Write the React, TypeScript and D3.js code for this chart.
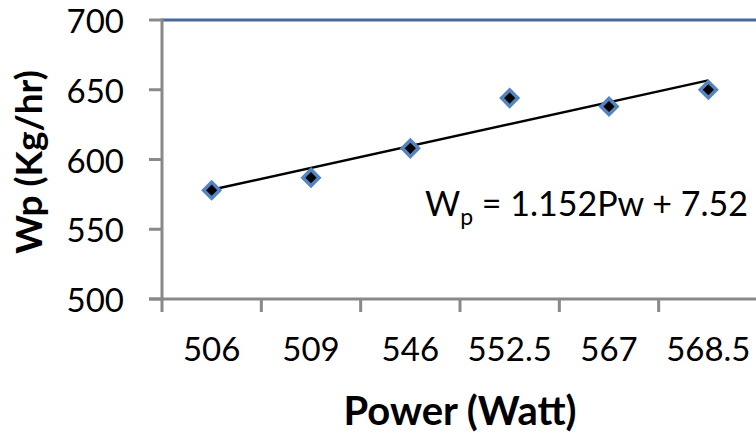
import React from "react";
import * as d3 from "d3";

// Power categories (W) and measured production rate Wp (kg/hr)
const powerLabels = ["506", "509", "546", "552.5", "567", "568.5"];
const wpValues = [578, 587, 608, 644, 638, 650];
const yTickValues = [500, 550, 600, 650, 700];

const WIDTH = 756;
const HEIGHT = 436;
const PLOT = { left: 162, right: 758, top: 20, bottom: 299 };

const FONT = "Lato, 'Open Sans', sans-serif";
const AXIS_GRAY = "#898989";

// Least-squares fit over category positions 1..n (as a spreadsheet trendline does)
function linearFit(values: number[]) {
  const xs = values.map((_, i) => i + 1);
  const mx = d3.mean(xs) as number;
  const my = d3.mean(values) as number;
  let sxy = 0;
  let sxx = 0;
  xs.forEach((x, i) => {
    sxy += (x - mx) * (values[i] - my);
    sxx += (x - mx) * (x - mx);
  });
  const slope = sxy / sxx;
  const intercept = my - slope * mx;
  return (x: number) => intercept + slope * x;
}

export default function App() {
  const x = d3
    .scaleBand<string>()
    .domain(powerLabels)
    .range([PLOT.left, PLOT.right])
    .padding(0);
  const y = d3.scaleLinear().domain([500, 700]).range([PLOT.bottom, PLOT.top]);

  const cx = (label: string) => (x(label) as number) + x.bandwidth() / 2;

  const fit = linearFit(wpValues);
  const first = powerLabels[0];
  const last = powerLabels[powerLabels.length - 1];
  const trendPath = d3.line()([
    [cx(first), y(fit(1))],
    [cx(last), y(fit(powerLabels.length))],
  ]) as string;

  const diamond = d3.symbol(d3.symbolSquare, 130)() as string;

  // boundaries between categories carry the tick marks
  const xTickPositions = d3.range(powerLabels.length + 1).map(
    (i) => PLOT.left + i * x.bandwidth()
  );

  return (
    <svg
      width={WIDTH}
      height={HEIGHT}
      style={{ position: "absolute", left: 0, top: 0, background: "#fff" }}
      fontFamily={FONT}
    >
      <rect width={WIDTH} height={HEIGHT} fill="#fff" />

      {/* top border of the plot area */}
      <line
        x1={PLOT.left}
        x2={WIDTH}
        y1={y(700)}
        y2={y(700)}
        stroke="#44699c"
        strokeWidth={3}
      />

      {/* y axis */}
      <line
        x1={PLOT.left}
        x2={PLOT.left}
        y1={y(700) - 1.5}
        y2={y(500)}
        stroke={AXIS_GRAY}
        strokeWidth={3}
      />
      {yTickValues.map((v) => (
        <g key={v}>
          <line
            x1={PLOT.left - 13}
            x2={PLOT.left}
            y1={y(v)}
            y2={y(v)}
            stroke={AXIS_GRAY}
            strokeWidth={3}
          />
          <text
            x={124}
            y={y(v)}
            textAnchor="end"
            dominantBaseline="central"
            fontSize={33}
            fill="#000"
          >
            {v}
          </text>
        </g>
      ))}

      {/* x axis */}
      <line
        x1={PLOT.left - 13}
        x2={WIDTH}
        y1={y(500)}
        y2={y(500)}
        stroke={AXIS_GRAY}
        strokeWidth={3}
      />
      {xTickPositions.map((px, i) => (
        <line
          key={i}
          x1={px}
          x2={px}
          y1={y(500)}
          y2={y(500) + 13}
          stroke={AXIS_GRAY}
          strokeWidth={3}
        />
      ))}
      {powerLabels.map((lab) => (
        <text
          key={lab}
          x={cx(lab)}
          y={361}
          textAnchor="middle"
          fontSize={33}
          fill="#000"
        >
          {lab}
        </text>
      ))}

      {/* trendline */}
      <path d={trendPath} fill="none" stroke="#000" strokeWidth={2.4} />

      {/* measured points */}
      {powerLabels.map((lab, i) => (
        <path
          key={lab}
          d={diamond}
          transform={`translate(${cx(lab)},${y(wpValues[i])}) rotate(45)`}
          fill="#000"
          stroke="#5585c0"
          strokeWidth={3.5}
        />
      ))}

      {/* fitted equation */}
      <text x={425} y={216} fontSize={34} fill="#000">
        W
        <tspan fontSize={23} dy={9}>
          p
        </tspan>
        <tspan dy={-9}> = 1.152Pw + 7.52</tspan>
      </text>

      {/* axis titles */}
      <text
        x={460}
        y={425}
        textAnchor="middle"
        fontSize={40}
        fontWeight="bold"
        fill="#000"
      >
        Power (Watt)
      </text>
      <text
        transform={`translate(42,162) rotate(-90)`}
        textAnchor="middle"
        fontSize={37}
        fontWeight="bold"
        fill="#000"
      >
        Wp (Kg/hr)
      </text>
    </svg>
  );
}
